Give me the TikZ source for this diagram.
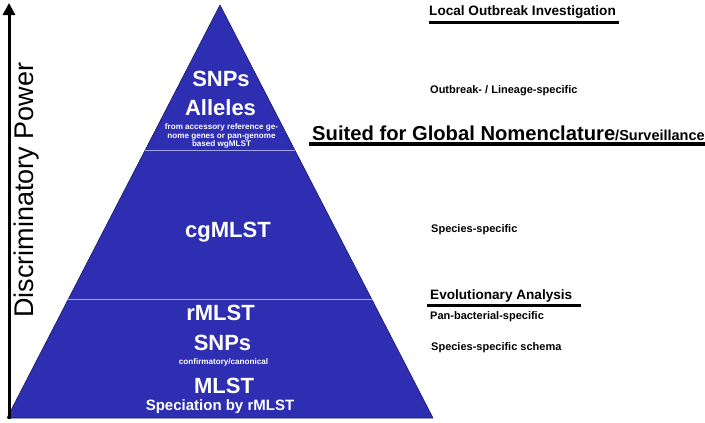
\documentclass[tikz,border=0pt]{standalone}
\usepackage{fontspec}
\setmainfont{Liberation Sans}
\usetikzlibrary{positioning,calc,arrows.meta}
\definecolor{pyramid}{RGB}{46,46,178}
\definecolor{tierline}{RGB}{165,165,230}

\begin{document}
\begin{tikzpicture}[
    x=1pt, y=-1pt,
    every node/.style={inner sep=0pt, align=center},
    level/.style={text=white, font=\fontsize{22}{24}\selectfont\bfseries},
    note/.style={text=white, font=\fontsize{8.1}{8.8}\selectfont\bfseries},
    side/.style={anchor=west, font=\fontsize{11}{13}\selectfont\bfseries},
    heading/.style={anchor=west, font=\fontsize{13.6}{16}\selectfont\bfseries},
    divider/.style={tierline, line width=0.9pt},
    underline/.style={line width=2.6pt}
]
\useasboundingbox (0,0) rectangle (705,423);

% pyramid
\coordinate (apex) at (220,5);
\coordinate (bl) at (7,418);
\coordinate (br) at (433,418);
\fill[pyramid, draw=pyramid!55!black, line width=0.6pt] (bl) -- (apex) -- (br) -- cycle;

% tier boundaries
\draw[divider] ($(apex)!0.351!(bl)$) -- ($(apex)!0.351!(br)$);
\draw[divider] ($(apex)!0.714!(bl)$) -- ($(apex)!0.714!(br)$);

% top tier
\node[level] (snps) at (221,79) {SNPs};
\node[level] (alleles) at (220.5,108) {Alleles};
\node[note] (accessory) at (221.5,136)
    {from accessory reference ge-\\nome genes or pan-genome\\based wgMLST};

% middle tier
\node[level] (cgmlst) at (228,232) {cgMLST};

% bottom tier
\node[level] (rmlst) at (220.5,313) {rMLST};
\node[level] (snpsb) at (222.5,343) {SNPs};
\node[note] (confirm) at (223.5,362) {confirmatory/canonical};
\node[level] (mlst) at (224,386) {MLST};
\node[text=white, font=\fontsize{15}{17}\selectfont\bfseries] (speciation) at (220,407)
    {Speciation by rMLST};

% axis
\coordinate (axisfoot) at (9,419);
\coordinate (axistip) at (9,3);
\draw[line width=3pt, -{Triangle[width=12pt, length=12pt]}] (axisfoot) -- (axistip);
\node[rotate=90, font=\fontsize{27}{30}\selectfont] (power) at (27,190) {Discriminatory Power};

% right column
\node[heading] (local) at (429,12) {Local Outbreak Investigation};
\draw[underline] ([yshift=-4pt]local.south west) -- ([yshift=-4pt, xshift=3pt]local.south east);

\node[side] (outbreak) at (430,91) {Outbreak- / Lineage-specific};

\node[anchor=west, font=\fontsize{20.2}{23}\selectfont\bfseries] (global) at (312,133)
    {Suited for Global Nomenclature{\fontsize{14.5}{16}\selectfont/Surveillance}};
\draw[line width=4pt] ([yshift=-3pt, xshift=-3pt]global.south west) -- ([yshift=-3pt, xshift=4pt]global.south east);

\node[side] (species) at (431,230) {Species-specific};

\node[heading] (evolution) at (430,296) {Evolutionary Analysis};
\draw[underline] ([yshift=-3pt, xshift=-3pt]evolution.south west) -- ([yshift=-3pt, xshift=9pt]evolution.south east);

\node[side] (panbac) at (430,317) {Pan-bacterial-specific};
\node[side] (schema) at (431,348) {Species-specific schema};
\end{tikzpicture}
\end{document}
